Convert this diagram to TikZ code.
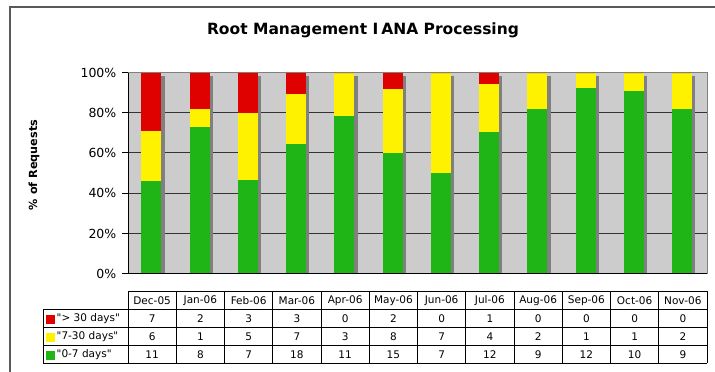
\documentclass[tikz,border=0pt]{standalone}
\usepackage{fontspec}
\setmainfont{DejaVu Sans}[Ligatures=TeXOff]
\definecolor{barred}{HTML}{DF0000}
\definecolor{baryel}{HTML}{FFF200}
\definecolor{bargrn}{HTML}{1FB516}
\definecolor{plotbg}{HTML}{CCCCCC}
\definecolor{shadowgray}{HTML}{808080}
\definecolor{framegray}{HTML}{5A5A5A}
\definecolor{gridc}{HTML}{333333}
\tikzset{
  cell/.style={inner sep=0pt, font=\fontsize{10.5}{12}\selectfont},
  ticklab/.style={anchor=east, inner sep=0pt, font=\fontsize{12.5}{14}\selectfont},
  tabline/.style={draw=black, line width=0.9pt},
  gridline/.style={draw=gridc, line width=1pt}
}
\begin{document}
\begin{tikzpicture}[x=1pt,y=-1pt]
\useasboundingbox (0,0) rectangle (715,372);
\fill[white] (0,0) rectangle (715,372);
% outer frame
\draw[framegray, line width=1.6pt] (10,372) -- (10,7) -- (715,7);
% title
\node[inner sep=0pt, font=\bfseries\fontsize{15.5}{18}\selectfont] (title) at (363,30) {Root Management I\kern3pt ANA Processing};
% y-axis title
\node[inner sep=0pt, rotate=90, font=\bfseries\fontsize{11.2}{13}\selectfont] (ytitle) at (34,165) {\% of Requests};
% plot background
\fill[plotbg] (128,72.5) rectangle (707,273.7);
\foreach \p in {20,40,60,80}{
  \draw[gridline] (128,273.7-2.012*\p) -- (707,273.7-2.012*\p);
}
\draw[shadowgray, line width=1pt] (128,72.5) -- (707,72.5) -- (707,273.7);
% bars and table cells
\foreach \i/\m/\r/\yv/\g in {0/Dec-05/7/6/11, 1/Jan-06/2/1/8, 2/Feb-06/3/5/7, 3/Mar-06/3/7/18, 4/Apr-06/0/3/11, 5/May-06/2/8/15, 6/Jun-06/0/7/7, 7/Jul-06/1/4/12, 8/Aug-06/0/2/9, 9/Sep-06/0/1/12, 10/Oct-06/0/1/10, 11/Nov-06/0/2/9}{
  \pgfmathsetmacro\xl{128+\i*48.25+13.3}
  \pgfmathsetmacro\xr{\xl+20}
  \pgfmathsetmacro\tot{\r+\yv+\g}
  \pgfmathsetmacro\yg{273.7-201.2*\g/\tot}
  \pgfmathsetmacro\yy{273.7-201.2*(\g+\yv)/\tot}
  \fill[shadowgray] (\xr,75.5) rectangle (\xr+3.3,273.7);
  \fill[bargrn] (\xl,273.7) rectangle (\xr,\yg);
  \fill[baryel] (\xl,\yg) rectangle (\xr,\yy);
  \fill[barred] (\xl,\yy) rectangle (\xr,72.5);
  \pgfmathsetmacro\xc{128+(\i+0.5)*48.25}
  \node[cell] (h\i) at (\xc,300.5) {\m};
  \node[cell] (ra\i) at (\xc,318.5) {\r};
  \node[cell] (rb\i) at (\xc,336.5) {\yv};
  \node[cell] (rc\i) at (\xc,354.5) {\g};
}
% axes
\draw[black, line width=1pt] (128,72.5) -- (128,273.7) -- (707,273.7);
\foreach \p/\lab in {0/0\%,20/20\%,40/40\%,60/60\%,80/80\%,100/100\%}{
  \draw[black, line width=1pt] (122,273.7-2.012*\p) -- (128,273.7-2.012*\p);
  \node[ticklab] (tk\p) at (116.5,273.7-2.012*\p) {\lab};
}
% table grid
\draw[tabline] (128,291) -- (707,291);
\foreach \yy in {309,327,345,363}{
  \draw[tabline] (43,\yy) -- (707,\yy);
}
\draw[tabline] (43,309) -- (43,363);
\foreach \i in {0,...,12}{
  \draw[tabline] (128+\i*48.25,291) -- (128+\i*48.25,363);
}
% legend keys and row labels
\fill[barred] (46,314.5) rectangle (55,323.5);
\fill[baryel] (46,332.5) rectangle (55,341.5);
\fill[bargrn] (46,350.5) rectangle (55,359.5);
\node[cell, anchor=west] (la) at (56.5,318.5) {"> 30 days"};
\node[cell, anchor=west] (lb) at (56.5,336.5) {"7-30 days"};
\node[cell, anchor=west] (lc) at (56.5,354.5) {"0-7 days"};
\end{tikzpicture}
\end{document}
